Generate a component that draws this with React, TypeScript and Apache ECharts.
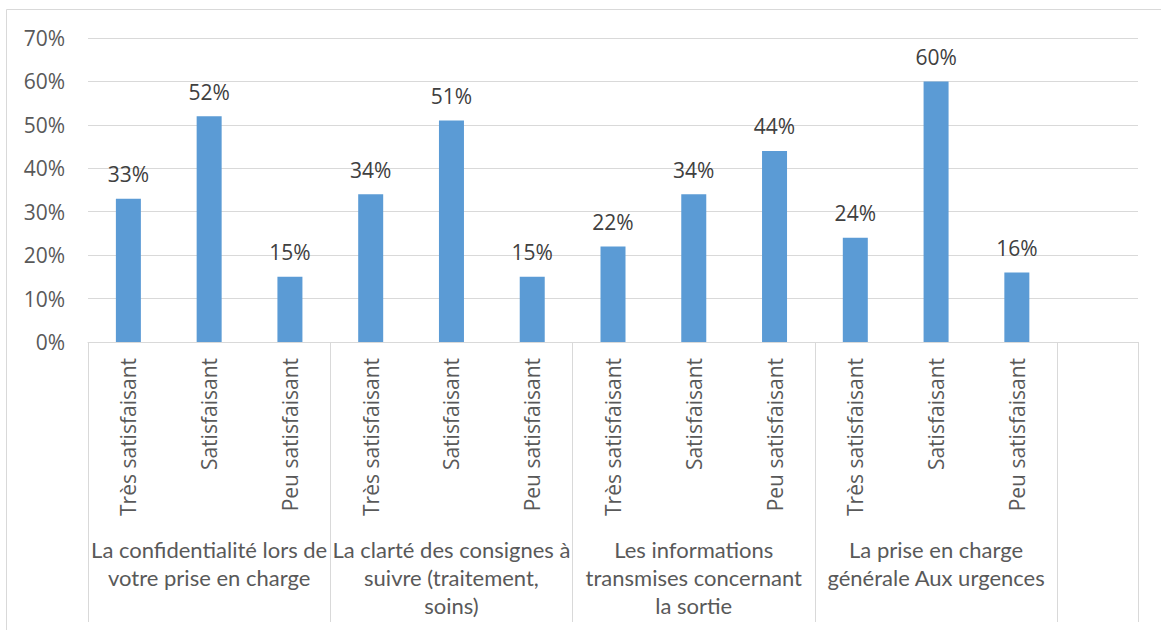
import React, { useEffect, useRef } from "react";
import * as echarts from "echarts";

// Answer levels repeated for each question, plus one empty trailing slot
const levels = ["Très satisfaisant", "Satisfaisant", "Peu satisfaisant"];
const questions = [
  "La confidentialité lors de\nvotre prise en charge",
  "La clarté des consignes à\nsuivre (traitement,\nsoins)",
  "Les informations\ntransmises concernant\nla sortie",
  "La prise en charge\ngénérale Aux urgences",
];
// Percentages per question, in the order of `levels`
const confidentialite = [33, 52, 15];
const clarte = [34, 51, 15];
const informations = [22, 34, 44];
const priseEnCharge = [24, 60, 16];
const yTicks = { min: 0, max: 70, interval: 10 };

const groups = [confidentialite, clarte, informations, priseEnCharge];

export default function App() {
  const ref = useRef<HTMLDivElement>(null);

  useEffect(() => {
    if (!ref.current) return;
    const chart = echarts.init(ref.current, null, { renderer: "svg" });

    const levelCats: string[] = [];
    const groupCats: string[] = [];
    const values: (number | string)[] = [];
    groups.forEach((g, gi) => {
      g.forEach((v, li) => {
        levelCats.push(levels[li]);
        groupCats.push(li === 1 ? questions[gi] : "");
        values.push(v);
      });
    });
    // trailing empty slot
    levelCats.push("");
    groupCats.push("");
    values.push("-");

    const grey = "#D9D9D9";

    chart.setOption({
      animation: false,
      graphic: [
        {
          type: "rect",
          shape: { x: 6.5, y: 9.5, width: 1170, height: 640 },
          style: { fill: "none", stroke: grey, lineWidth: 1 },
          silent: true,
        },
      ],
      grid: { left: 88, right: 23, top: 38, bottom: 288, containLabel: false },
      xAxis: [
        {
          type: "category",
          data: levelCats,
          position: "bottom",
          axisLine: { show: true, lineStyle: { color: grey, width: 1 } },
          axisTick: { show: false },
          axisLabel: {
            interval: 0,
            rotate: 90,
            margin: 16,
            color: "#595959",
            fontFamily: "Open Sans",
            fontSize: 21,
          },
        },
        {
          type: "category",
          data: groupCats,
          position: "bottom",
          axisLine: { show: false },
          axisTick: {
            show: true,
            interval: (index: number) => index % 3 === 0,
            length: 280,
            lineStyle: { color: grey, width: 1 },
          },
          axisLabel: {
            interval: 0,
            margin: 193,
            color: "#595959",
            fontFamily: "Lato",
            fontSize: 22,
            lineHeight: 28,
            align: "center",
          },
        },
      ],
      yAxis: {
        type: "value",
        min: yTicks.min,
        max: yTicks.max,
        interval: yTicks.interval,
        axisLine: { show: false },
        axisTick: { show: false },
        splitLine: { lineStyle: { color: grey, width: 1 } },
        axisLabel: {
          formatter: "{value}%",
          margin: 23,
          color: "#595959",
          fontFamily: "Open Sans",
          fontSize: 21,
        },
      },
      series: [
        {
          type: "bar",
          xAxisIndex: 0,
          data: values,
          barWidth: 25,
          itemStyle: { color: "#5B9BD5" },
          label: {
            show: true,
            position: "top",
            distance: 14,
            formatter: "{c}%",
            color: "#404040",
            fontFamily: "Open Sans",
            fontSize: 21,
          },
        },
      ],
    });

    return () => chart.dispose();
  }, []);

  return (
    <div
      ref={ref}
      style={{ position: "absolute", left: 0, top: 0, width: 1161, height: 630 }}
    />
  );
}
